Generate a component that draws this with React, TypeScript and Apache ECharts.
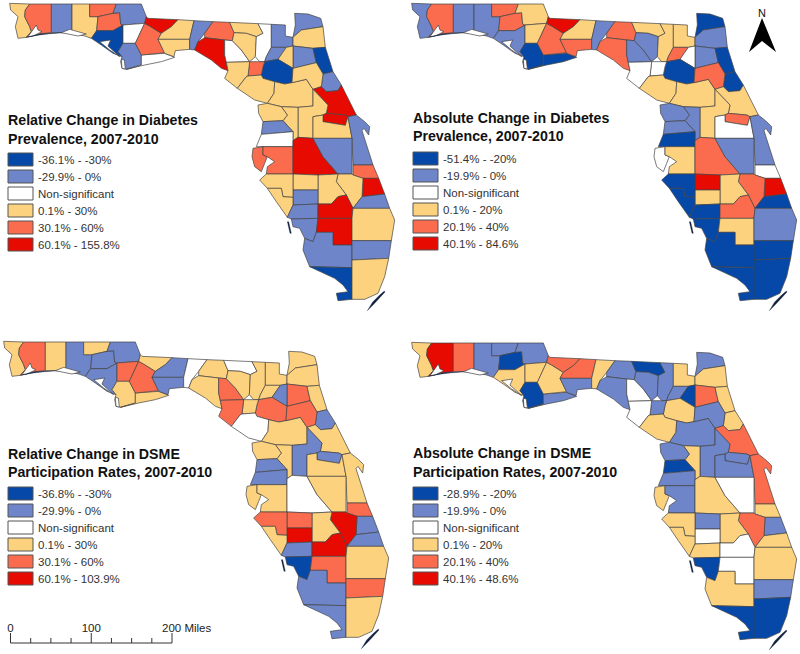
import React, { useEffect, useRef } from "react";
import * as echarts from "echarts";

// County outlines, as map data in one common projected grid (y grows southwards).
const countyShapes: [string, number[]][] = [
  ["Escambia", [35,10,95,12,82,30,80,50,95,80,100,95,85,112,60,115,52,80,60,50,38,30]],
  ["Santa Rosa", [95,12,160,12,160,98,130,101,85,112,100,95,95,80,80,50,82,30]],
  ["Okaloosa", [160,12,222,12,222,100,190,98,160,98]],
  ["Walton", [222,12,275,12,275,50,300,50,296,92,280,115,260,108,222,100]],
  ["Holmes", [275,12,355,12,345,40,300,50,275,50]],
  ["Washington", [300,50,345,40,365,38,368,72,375,75,345,92,296,92]],
  ["Bay", [296,92,345,92,375,75,375,130,360,155,372,170,345,160,310,135,280,115]],
  ["Jackson", [355,12,430,12,445,50,440,70,375,75,368,72,365,38,345,40]],
  ["Calhoun", [375,75,440,70,412,130,375,130]],
  ["Gulf", [375,130,412,130,430,165,430,195,385,208,372,205,368,185,372,170,360,155]],
  ["Franklin", [430,165,500,160,530,172,490,185,440,195,385,208,430,195]],
  ["Liberty", [440,70,455,78,490,100,480,118,500,158,430,165,412,130]],
  ["Gadsden", [445,50,450,55,540,59,520,80,490,100,455,78,440,70]],
  ["Leon", [540,59,588,62,575,118,480,118,490,100,520,80]],
  ["Wakulla", [480,118,575,118,575,148,532,152,528,170,500,160]],
  ["Jefferson", [588,62,645,65,620,100,600,125,590,150,575,148,575,118]],
  ["Madison", [645,65,695,67,708,98,703,122,680,120,620,113,620,100]],
  ["Taylor", [620,113,680,120,680,165,690,212,670,205,640,180,590,150,600,125]],
  ["Hamilton", [695,67,780,71,795,100,775,110,745,100,708,98]],
  ["Lafayette", [680,120,703,122,730,150,755,185,685,187,680,165]],
  ["Suwannee", [708,98,745,100,775,110,772,170,755,185,730,150,703,122]],
  ["Columbia", [780,71,820,73,820,142,805,170,800,185,785,185,772,170,775,110,795,100]],
  ["Baker", [820,73,862,75,862,108,885,112,885,138,865,142,820,142]],
  ["Nassau", [890,40,930,42,968,55,975,80,910,90,885,112,892,75]],
  ["Duval", [885,112,910,90,975,80,982,142,945,145,885,138]],
  ["Clay", [885,138,945,145,955,188,885,205]],
  ["St. Johns", [945,145,982,142,1005,215,975,222,955,188]],
  ["Flagler", [975,222,1005,215,1030,255,1020,272,985,275,970,260]],
  ["Union", [805,170,820,142,865,142,840,178,800,185]],
  ["Bradford", [865,142,885,138,885,205,840,178]],
  ["Alachua", [800,185,840,178,885,205,882,248,860,252,830,245,795,235,790,225,795,200]],
  ["Gilchrist", [755,185,785,185,800,185,795,200,790,225,750,228]],
  ["Dixie", [685,187,755,185,750,228,745,230,718,265,680,235,690,212]],
  ["Levy", [750,228,790,225,795,235,830,245,828,280,808,310,770,300,718,265,745,230]],
  ["Marion", [830,245,860,252,882,248,925,238,945,268,945,318,900,322,850,320,808,310,828,280]],
  ["Putnam", [885,205,955,188,975,222,970,260,945,268,925,238,882,248]],
  ["Volusia", [945,268,970,260,985,275,1020,272,1030,255,1075,345,1050,350,1040,345,985,340,990,315]],
  ["Lake", [945,268,990,315,985,340,975,345,945,350,945,415,900,412,900,322,945,318]],
  ["Seminole", [985,340,1040,345,1050,350,1042,376,975,365,975,345]],
  ["Orange", [945,350,975,345,975,365,1042,376,1050,350,1062,415,945,415]],
  ["Sumter", [850,320,900,322,900,412,885,422,885,395,855,362,868,345]],
  ["Citrus", [780,315,808,310,850,320,868,345,855,362,795,365,782,340]],
  ["Hernando", [795,365,855,362,885,395,790,403]],
  ["Pasco", [790,403,885,395,885,440,775,440]],
  ["Brevard", [1050,350,1075,345,1100,365,1115,380,1112,405,1098,385,1092,392,1125,495,1065,495,1062,415]],
  ["Pinellas", [765,445,795,440,795,465,808,470,800,490,790,515,770,500,762,470]],
  ["Hillsborough", [795,440,885,440,885,522,805,522,808,500,830,485,808,470,795,465]],
  ["Polk", [885,440,885,422,900,412,945,415,975,470,1020,522,960,525,885,522]],
  ["Osceola", [945,415,1062,415,1062,522,1020,522,975,470]],
  ["Indian River", [1065,495,1125,495,1142,535,1095,535,1065,525]],
  ["St. Lucie", [1095,535,1142,535,1160,582,1092,590]],
  ["Okeechobee", [1020,522,1062,522,1065,525,1095,535,1092,590,1065,625,1045,585,1015,545]],
  ["Martin", [1065,625,1092,590,1160,582,1175,625]],
  ["Highlands", [960,525,1020,522,1015,545,1045,585,1020,590,1000,612,960,612]],
  ["Hardee", [885,522,960,525,960,570,885,570]],
  ["DeSoto", [885,570,960,570,960,612,885,615]],
  ["Manatee", [785,540,805,522,885,522,885,592,855,590,850,565,808,565]],
  ["Sarasota", [808,565,850,565,855,590,885,592,885,615,868,652,835,605]],
  ["Charlotte", [885,615,960,612,960,655,880,657,868,652]],
  ["Lee", [880,657,960,655,955,697,945,725,920,715,905,685,885,680]],
  ["Glades", [960,612,1000,612,1020,590,1045,585,1065,625,1062,655,960,655]],
  ["Hendry", [960,655,1062,655,1062,735,1005,735,1005,697,955,697]],
  ["Palm Beach", [1065,625,1175,625,1190,660,1180,722,1062,722,1062,655]],
  ["Collier", [955,697,1005,697,1005,735,1062,735,1062,803,935,800,915,750,920,715,945,725]],
  ["Broward", [1062,722,1180,722,1172,775,1062,780]],
  ["Monroe", [935,800,1062,803,1062,898,1020,902,1015,880,1050,875,1035,855,1010,835]],
  ["Miami-Dade", [1062,780,1172,775,1160,830,1140,880,1100,898,1062,898]],
];
const waterShapes: [string, number[]][] = [
  ["Pensacola Bay", [90,110,115,75,120,90,132,95,105,108]],
  ["Choctawhatchee Bay", [190,98,215,88,265,102,240,108]],
  ["St. Andrew Bay", [305,125,338,120,330,138,365,170,335,150]],
  ["St. Joseph Bay", [370,178,379,180,382,207,372,205]],
];
const islandShapes: [string, number[]][] = [
  ["Santa Rosa Island", [85,112,130,101,190,98,130,104]],
  ["Pine Island", [868,665,872,665,880,700,876,700]],
  ["Florida Keys", [1159,873,1161,876,1130,910,1108,932,1124,906,1145,885]],
];

// Class of every county, in the order of countyShapes.
const relDiabetes = ("Y O L Y O O B L W L W O R Y Y L O R Y W Y W L L Y L B L L Y " +
  "B O Y Y Y Y R Y R Y Y Y L W L O O R L O R Y L Y Y L Y Y L L R R Y L L B Y").split(" ");
const absDiabetes = ("L O L L O O L Y Y B B O R Y O L O O Y L L Y Y B L L B B O W " +
  "B W W Y Y O Y Y O W L L L B L W Y O L W R O B Y R Y B B B B O Y L B B B B").split(" ");
const relDsme = ("Y O Y L Y L L L O Y Y O Y L L W Y Y W O Y Y Y Y Y O Y L Y L " +
  "O Y O W Y O Y L L Y Y Y L L Y Y Y W Y O L R L Y O R O Y L B R O Y L O L Y").split(" ");
const absDsme = ("Y R O L L B Y L Y B L Y O O L Y L L B W L L Y L Y O Y Y L B " +
  "Y L W Y L L O L L L Y L B L O Y L Y W Y L O Y Y L W Y Y Y B W W Y Y L B B").split(" ");

const classKeys = ["B", "L", "W", "Y", "O", "R"];
const classColors = ["#0548a8", "#6e86c9", "#ffffff", "#fdd27f", "#fb6c4e", "#e60a00"];

const relDiabetesLegend = ["-36.1% - -30%", "-29.9% - 0%", "Non-significant", "0.1% - 30%", "30.1% - 60%", "60.1% - 155.8%"];
const absDiabetesLegend = ["-51.4% - -20%", "-19.9% - 0%", "Non-significant", "0.1% - 20%", "20.1% - 40%", "40.1% - 84.6%"];
const relDsmeLegend = ["-36.8% - -30%", "-29.9% - 0%", "Non-significant", "0.1% - 30%", "30.1% - 60%", "60.1% - 103.9%"];
const absDsmeLegend = ["-28.9% - -20%", "-19.9% - 0%", "Non-significant", "0.1% - 20%", "20.1% - 40%", "40.1% - 48.6%"];

const panels = [
  { id: "p0", dx: -402, dy: 0, classes: relDiabetes, legend: relDiabetesLegend,
    title: ["Relative Change in Diabetes", "Prevalence, 2007-2010"], lx: 8, ty: 120, sy: 153 },
  { id: "p1", dx: 0, dy: 0, classes: absDiabetes, legend: absDiabetesLegend,
    title: ["Absolute Change in Diabetes", "Prevalence, 2007-2010"], lx: 413, ty: 117.5, sy: 152 },
  { id: "p2", dx: -408, dy: 338, classes: relDsme, legend: relDsmeLegend,
    title: ["Relative Change in DSME", "Participation Rates, 2007-2010"], lx: 8, ty: 453.5, sy: 487 },
  { id: "p3", dx: 0, dy: 339, classes: absDsme, legend: absDsmeLegend,
    title: ["Absolute Change in DSME", "Participation Rates, 2007-2010"], lx: 413, ty: 453, sy: 487 },
];

const scaleMiles = [0, 100, 200];
const FONT = "'Liberation Sans', Arial, sans-serif";
const allShapes = [...countyShapes, ...waterShapes, ...islandShapes];

function ring(c: number[]) {
  const r: number[][] = [];
  for (let i = 0; i < c.length; i += 2) r.push([c[i], -c[i + 1]]);
  r.push([c[0], -c[1]]);
  return r;
}
const geoJson = {
  type: "FeatureCollection",
  features: allShapes.map(([name, c]) => ({
    type: "Feature",
    properties: { name },
    geometry: { type: "Polygon", coordinates: [ring(c)] },
  })),
};

const xs = allShapes.flatMap(([, c]) => c.filter((_, i) => i % 2 === 0));
const ys = allShapes.flatMap(([, c]) => c.filter((_, i) => i % 2 === 1));
const minX = Math.min(...xs), maxX = Math.max(...xs), minY = Math.min(...ys), maxY = Math.max(...ys);

export default function App() {
  const ref = useRef<HTMLDivElement>(null);
  useEffect(() => {
    panels.forEach((p) => echarts.registerMap(p.id, geoJson as any));
    const chart = echarts.init(ref.current!, undefined, { renderer: "svg" });
    const series = panels.map((p) => ({
      type: "map",
      map: p.id,
      aspectScale: 1,
      roam: false,
      silent: true,
      selectedMode: false,
      left: 400 + p.dx + minX / 3,
      top: p.dy + minY / 3,
      width: (maxX - minX) / 3,
      height: (maxY - minY) / 3,
      label: { show: false },
      emphasis: { disabled: true },
      select: { disabled: true },
      itemStyle: { borderColor: "#444444", borderWidth: 0.7, areaColor: "#ffffff" },
      data: [
        ...countyShapes.map(([name], i) => {
          const k = classKeys.indexOf(p.classes[i]);
          return { name, value: k, itemStyle: { areaColor: classColors[k] } };
        }),
        ...waterShapes.map(([name]) => ({ name, value: -1, itemStyle: { areaColor: "#ffffff" } })),
        ...islandShapes.map(([name]) => ({ name, value: -2, itemStyle: { areaColor: "#10203f", borderColor: "#10203f", borderWidth: 0.3 } })),
      ],
    }));
    const graphic: any[] = [];
    panels.forEach((p) => {
      p.title.forEach((t, i) =>
        graphic.push({
          type: "text", x: p.lx, y: p.ty + i * 18.5,
          style: { text: t, font: `bold 14.2px ${FONT}`, fill: "#111", textVerticalAlign: "middle" },
        })
      );
      p.legend.forEach((t, i) => {
        const y = p.sy + i * 17;
        graphic.push({
          type: "rect", shape: { x: p.lx, y, width: 25, height: 13 },
          style: { fill: classColors[i], stroke: "#555", lineWidth: 1 },
        });
        graphic.push({
          type: "text", x: p.lx + 30, y: y + 6.5,
          style: { text: t, font: `11.5px ${FONT}`, fill: "#333", textVerticalAlign: "middle" },
        });
      });
    });
    // Scale bar
    const barX = 10.5, barY = 643, barW = 161.5;
    graphic.push({ type: "line", shape: { x1: barX, y1: barY, x2: barX + barW, y2: barY }, style: { stroke: "#333", lineWidth: 1 } });
    for (let i = 0; i <= 8; i++) {
      const x = barX + (barW * i) / 8;
      const major = i % 4 === 0;
      graphic.push({ type: "line", shape: { x1: x, y1: barY - (major ? 10 : 5), x2: x, y2: barY }, style: { stroke: "#333", lineWidth: 1 } });
    }
    scaleMiles.forEach((m, i) => {
      const x = barX + (barW * i) / 2;
      graphic.push({
        type: "text", x: i === 2 ? x - 10 : x, y: 628,
        style: {
          text: i === 2 ? `${m} Miles` : `${m}`, font: `11.5px ${FONT}`, fill: "#222",
          textAlign: i === 2 ? "left" : "center", textVerticalAlign: "middle",
        },
      });
    });
    // North arrow
    graphic.push({ type: "polygon", shape: { points: [[762, 18], [776, 52], [762, 41], [749, 52]] }, style: { fill: "#000" } });
    graphic.push({
      type: "text", x: 762, y: 13,
      style: { text: "N", font: `11px ${FONT}`, fill: "#111", textAlign: "center", textVerticalAlign: "middle" },
    });
    chart.setOption({ animation: false, backgroundColor: "#fff", tooltip: { show: false }, series, graphic });
    return () => chart.dispose();
  }, []);
  return (
    <div style={{ position: "fixed", left: 0, top: 0, width: 800, height: 654 }}>
      <div ref={ref} style={{ width: 800, height: 654 }} />
    </div>
  );
}
